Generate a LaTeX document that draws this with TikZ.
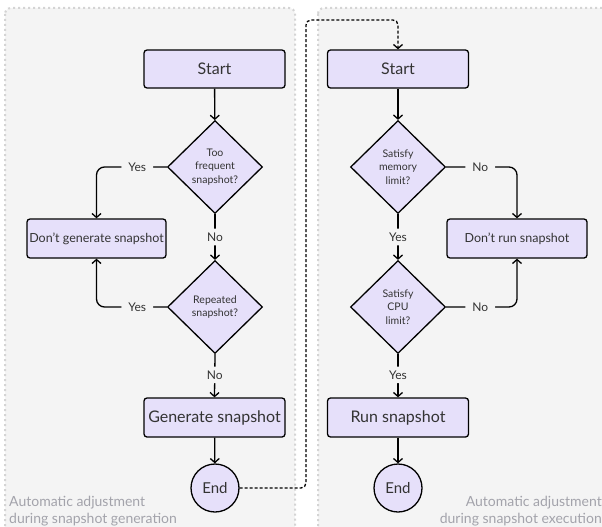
\documentclass[tikz,border=0pt]{standalone}
\usepackage{fontspec}
\setmainfont{Lato}
\usetikzlibrary{shapes.geometric,arrows.meta}
\definecolor{panelbg}{HTML}{F4F4F4}
\definecolor{panelborder}{HTML}{D4D4D4}
\definecolor{nodefill}{HTML}{E6E0FA}
\definecolor{txt}{HTML}{333333}
\definecolor{captxt}{HTML}{A3A3AB}
\tikzset{
  panel/.style={fill=panelbg, draw=panelborder, line width=2pt, dash pattern=on 2pt off 3pt, rounded corners=6pt},
  box/.style={draw=black, line width=1.3pt, rounded corners=3pt, fill=nodefill, text=txt, minimum width=141pt, minimum height=38pt, inner sep=0pt},
  dia/.style={diamond, draw=black, line width=1.3pt, fill=nodefill, text=txt, minimum width=95pt, minimum height=93pt, inner sep=0pt, align=center, font=\fontsize{10.5}{13.5}\selectfont},
  endc/.style={circle, draw=black, line width=1.3pt, fill=nodefill, text=txt, minimum size=48pt, inner sep=0pt, font=\fontsize{15}{18}\selectfont},
  conn/.style={draw=black, line width=1.3pt, -{Straight Barb[length=4pt,width=9pt,line width=1.3pt]}, rounded corners=8pt},
  lbl/.style={fill=panelbg, text=txt, inner xsep=7pt, inner ysep=4pt, font=\fontsize{12}{14}\selectfont},
  caption/.style={text=captxt, inner sep=0pt, font=\fontsize{14}{17}\selectfont},
  dotconn/.style={draw=black, line width=1.3pt, dash pattern=on 3pt off 2pt, rounded corners=5pt, -{Straight Barb[length=4pt,width=9pt,line width=1.3pt]}}
}
\begin{document}
\begin{tikzpicture}[x=1pt,y=-1pt]
\useasboundingbox (0,0) rectangle (602,527);
% panels
\path[panel] (5,8) rectangle (295,540);
\path[panel] (318,8) rectangle (615,540);
% captions
\node[caption, anchor=south west, align=left] (cap1) at (9,526) {Automatic adjustment\\during snapshot generation};
\node[caption, anchor=south east, align=right] (cap2) at (602,526) {Automatic adjustment\\during snapshot execution};
% left flow
\node[box, font=\fontsize{16}{19}\selectfont] (s1) at (214.5,69) {Start};
\node[dia] (d1) at (215,167) {Too\\frequent\\snapshot?};
\node[box, minimum width=139pt, minimum height=39pt, font=\fontsize{12.5}{16}\selectfont] (dg) at (96.5,238.5) {Don't generate snapshot};
\node[dia] (d2) at (215,307) {Repeated\\snapshot?};
\node[box, minimum height=39pt, font=\fontsize{16}{19}\selectfont] (gs) at (214.5,417.5) {Generate snapshot};
\node[endc] (e1) at (215,488) {End};
% right flow
\node[box, font=\fontsize{16}{19}\selectfont] (s2) at (398,69) {Start};
\node[dia] (d3) at (398,167) {Satisfy\\memory\\limit?};
\node[box, minimum width=140pt, minimum height=39pt, font=\fontsize{12.5}{16}\selectfont] (dr) at (517,238.5) {Don't run snapshot};
\node[dia] (d4) at (398,307) {Satisfy\\CPU\\limit?};
\node[box, minimum height=39pt, font=\fontsize{16}{19}\selectfont] (rs) at (398,417.5) {Run snapshot};
\node[endc] (e2) at (398,488) {End};
% left connectors
\draw[conn] (s1) -- (d1);
\draw[conn] (d1.west) -| node[lbl, pos=0.21] {Yes} (dg.north);
\draw[conn] (d1.south) -- node[lbl, pos=0.5] {No} (d2.north);
\draw[conn] (d2.west) -| node[lbl, pos=0.21] {Yes} (dg.south);
\draw[conn] (d2.south) -- node[lbl, pos=0.48] {No} (gs.north);
\draw[conn] (gs) -- (e1);
% right connectors
\draw[conn] (s2) -- (d3);
\draw[conn] (d3.east) -| node[lbl, pos=0.24] {No} (dr.north);
\draw[conn] (d3.south) -- node[lbl, pos=0.5] {Yes} (d4.north);
\draw[conn] (d4.east) -| node[lbl, pos=0.24] {No} (dr.south);
\draw[conn] (d4.south) -- node[lbl, pos=0.48] {Yes} (rs.north);
\draw[conn] (rs) -- (e2);
% dotted link
\coordinate (k1) at (306,488);
\coordinate (k2) at (306,20);
\draw[dotconn] (e1.east) -- (k1) -- (k2) -| (s2.north);
\end{tikzpicture}
\end{document}
